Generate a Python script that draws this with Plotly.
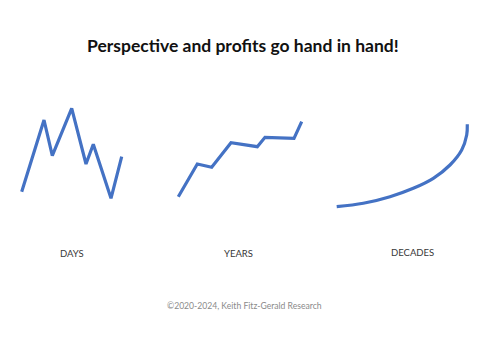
import plotly.graph_objects as go

W, H = 500, 345

# ---- data ----
days_x = [0, 2.23, 3.06, 5.0, 6.43, 7.16, 8.93, 10.0]
days_y = [18.3, 90, 54.3, 101.7, 46, 65.7, 11.7, 53.3]

years_x = [0, 1.9, 3.34, 5.27, 7.9, 8.67, 11.57, 12.34]
years_y = [13.3, 46, 42.7, 67.3, 63.3, 72.7, 71.7, 88.3]

decades_x = [0, 2.66, 5.33, 7.66, 9.66, 11.33, 12.5, 13.0, 13.06]
decades_y = [3.3, 6.7, 13.3, 21.7, 31.7, 45, 60, 75, 85.7]

panel_labels = ["DAYS", "YEARS", "DECADES"]
title_text = "Perspective and profits go hand in hand!"
footer_text = "©2020-2024, Keith Fitz-Gerald Research"

BLUE = "#4472C4"
FONT = "Lato, 'Open Sans', sans-serif"

def px_x(p):
    return p / W

def px_y(p):
    return (H - p) / H

fig = go.Figure()
series = [(days_x, days_y, "linear"), (years_x, years_y, "linear"), (decades_x, decades_y, "spline")]
for i, (xs, ys, shape) in enumerate(series):
    ax = "" if i == 0 else str(i + 1)
    fig.add_trace(go.Scatter(x=xs, y=ys, mode="lines", xaxis="x" + ax, yaxis="y" + ax,
                             line=dict(color=BLUE, width=3.2, shape=shape), hoverinfo="skip",
                             showlegend=False))

ydom = [px_y(210), px_y(100)]
xdoms = [[px_x(11.7), px_x(131.7)], [px_x(168.3), px_x(311.7)], [px_x(326.7), px_x(477.7)]]
xranges = [[-1, 11], [-1, 13.34], [-1, 14.1]]

axis_common = dict(visible=False, showgrid=False, zeroline=False, fixedrange=True)
layout = dict(width=W, height=H, margin=dict(l=0, r=0, t=0, b=0),
              paper_bgcolor="white", plot_bgcolor="white", showlegend=False)
for i in range(3):
    ax = "" if i == 0 else str(i + 1)
    layout["xaxis" + ax] = dict(domain=xdoms[i], range=xranges[i], anchor="y" + ax, **axis_common)
    layout["yaxis" + ax] = dict(domain=ydom, range=[0, 110], anchor="x" + ax, **axis_common)
fig.update_layout(**layout)

label_pos = [(71.7, 253), (238.7, 253), (412, 252)]
annotations = [dict(text="<b>" + title_text + "</b>", x=px_x(243), y=px_y(45.5), xref="paper", yref="paper",
                    showarrow=False, xanchor="center", yanchor="middle",
                    font=dict(family=FONT, size=17.5, color="#111111"))]
for lab, (lx, ly) in zip(panel_labels, label_pos):
    annotations.append(dict(text=lab, x=px_x(lx), y=px_y(ly), xref="paper", yref="paper",
                            showarrow=False, xanchor="center", yanchor="middle",
                            font=dict(family=FONT, size=9.5, color="#383838")))
annotations.append(dict(text=footer_text, x=px_x(244), y=px_y(306), xref="paper", yref="paper",
                        showarrow=False, xanchor="center", yanchor="middle",
                        font=dict(family=FONT, size=8.6, color="#8a8a8a")))
fig.update_layout(annotations=annotations)

fig.write_html("out.html")
